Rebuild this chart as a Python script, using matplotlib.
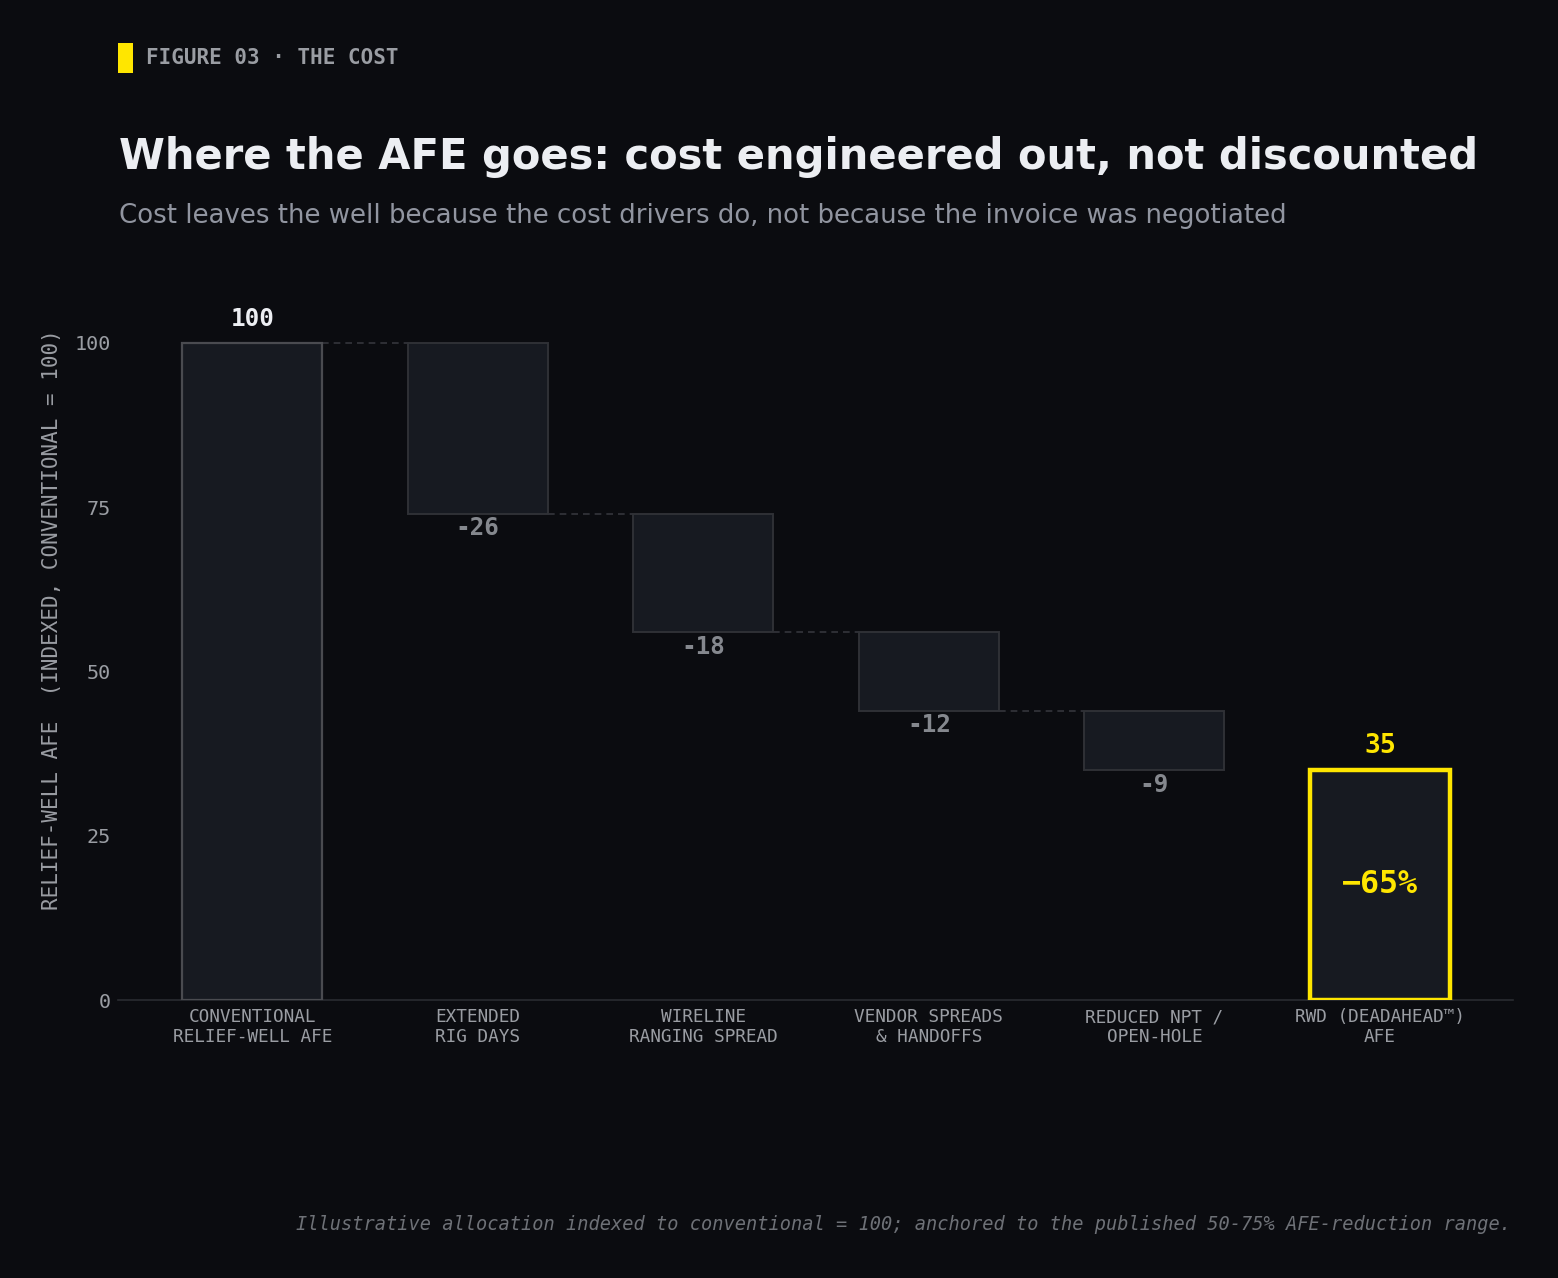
import numpy as np
import matplotlib.pyplot as plt
from matplotlib.patches import Rectangle

# Data
categories = ["CONVENTIONAL\nRELIEF-WELL AFE", "EXTENDED\nRIG DAYS", "WIRELINE\nRANGING SPREAD",
              "VENDOR SPREADS\n& HANDOFFS", "REDUCED NPT /\nOPEN-HOLE", "RWD (DEADAHEAD\u2122)\nAFE"]
start_value = 100
deltas = [-26, -18, -12, -9]
end_value = 35
y_ticks = [0, 25, 50, 75, 100]

# Colours
bg = "#0b0c10"
bar_fill = "#171a21"
edge_first = "#4a4b50"
edge_mid = "#2f3136"
yellow = "#ffe600"
grey = "#9a9da3"
delta_grey = "#85888e"
white = "#eceef2"
mono = "DejaVu Sans Mono"

fig = plt.figure(figsize=(15.58, 12.78), dpi=100, facecolor=bg)
W, H = 1558, 1278
ax = fig.add_axes([118 / W, 1 - 1000 / H, (1513 - 118) / W, (1000 - 277) / H])
ax.set_facecolor(bg)

x = np.arange(len(categories))
width = 0.62

# waterfall
ax.bar(x[0], start_value, width=width, color=bar_fill, edgecolor=edge_first, linewidth=1.6, zorder=3)
ax.text(x[0], start_value + 1.8, str(start_value), ha="center", va="bottom",
        fontsize=17.5, fontweight="bold", color=white, family=mono)
level = start_value
for i, d in enumerate(deltas, start=1):
    top = level
    level = level + d
    ax.bar(x[i], -d, bottom=level, width=width, color=bar_fill, edgecolor=edge_mid, linewidth=1.4, zorder=3)
    ax.plot([x[i - 1] + width / 2, x[i] - width / 2], [top, top], ls=(0, (4, 3)),
            color="#34363c", lw=1.2, zorder=2)
    ax.text(x[i], level - 0.4, str(d), ha="center", va="top",
            fontsize=17.5, fontweight="bold", color=delta_grey, family=mono)

ax.bar(x[5], end_value, width=width, color=bar_fill, edgecolor=yellow, linewidth=3.2, zorder=3)
ax.text(x[5], end_value + 1.6, str(end_value), ha="center", va="bottom",
        fontsize=19, fontweight="bold", color=yellow, family=mono)
pct = round((end_value - start_value) / start_value * 100)
ax.text(x[5], end_value / 2, f"\u2212{abs(pct)}%", ha="center", va="center",
        fontsize=22.8, fontweight="bold", color=yellow, family=mono)

ax.set_xlim(-0.595, 5.59)
ax.set_ylim(0, 110)
ax.set_xticks(x)
ax.set_xticklabels(categories, family=mono, fontsize=12.8, color=grey, linespacing=1.1)
ax.set_yticks(y_ticks)
ax.set_yticklabels([str(t) for t in y_ticks], family=mono, fontsize=14.5, color=grey)
ax.tick_params(axis="x", length=0, pad=6)
ax.tick_params(axis="y", length=0, pad=5)
for s in ["top", "right", "left"]:
    ax.spines[s].set_visible(False)
ax.spines["bottom"].set_color("#2a2c31")
ax.spines["bottom"].set_linewidth(1.2)
ax.set_ylabel("RELIEF-WELL AFE  (INDEXED, CONVENTIONAL = 100)", family=mono,
              fontsize=15, color=grey)
ax.yaxis.set_label_coords(-0.040, (1000 - 620) / 723)

# header
fig.patches.append(Rectangle((118 / W, 1 - 73 / H), 15 / W, 30 / H, transform=fig.transFigure,
                             facecolor=yellow, edgecolor="none"))
fig.text(146 / W, 1 - 58 / H, "FIGURE 03 \u00b7 THE COST", family=mono, fontsize=15,
         fontweight="bold", color=grey, va="center")
fig.text(119 / W, 1 - 157 / H, "Where the AFE goes: cost engineered out, not discounted",
         fontsize=30, fontweight="bold", color=white, va="center")
fig.text(119 / W, 1 - 216 / H,
         "Cost leaves the well because the cost drivers do, not because the invoice was negotiated",
         fontsize=18.7, color="#9195a0", va="center")
fig.text(1511 / W, 1 - 1224 / H,
         "Illustrative allocation indexed to conventional = 100; anchored to the published 50-75% AFE-reduction range.",
         family=mono, style="italic", fontsize=13.45, color="#6e7177", ha="right", va="center")

fig.savefig("out.png", dpi=100, facecolor=bg)
